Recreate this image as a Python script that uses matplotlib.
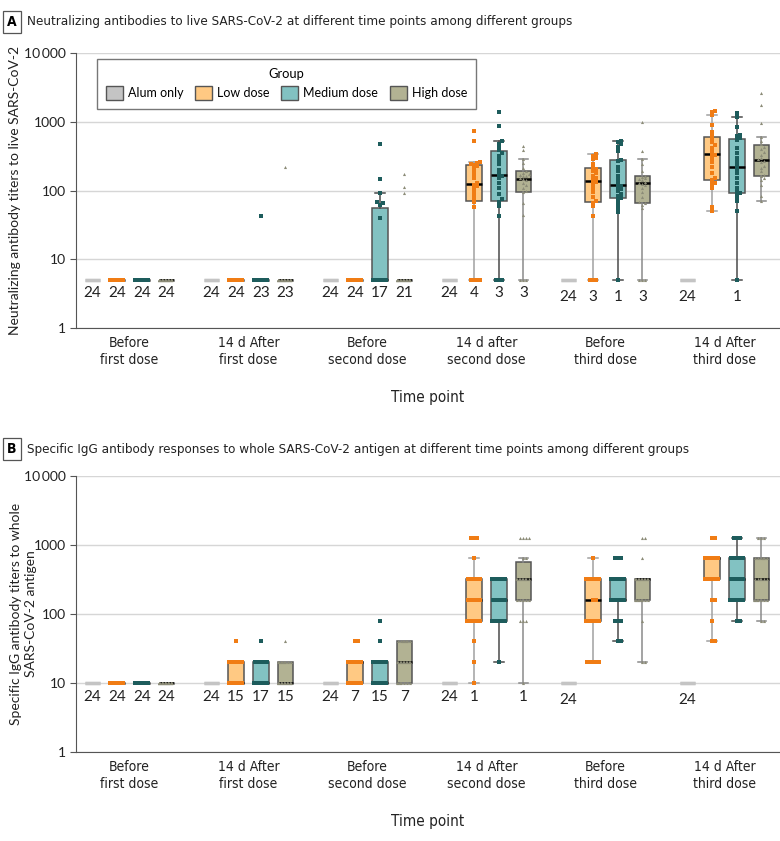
import numpy as np
import matplotlib.pyplot as plt
from matplotlib.patches import Patch
from matplotlib import font_manager
from matplotlib.font_manager import FontProperties

# pick a condensed face for titles / category labels if one is installed
paths = [f.fname for f in font_manager.fontManager.ttflist]


def find_font(keys):
    for k in keys:
        for p in paths:
            if p.endswith(k):
                return p
    return None


cond_reg = find_font(['LiberationSansNarrow-Regular.ttf', 'DejaVuSansCondensed.ttf'])
cond_bold = find_font(['LiberationSansNarrow-Bold.ttf', 'DejaVuSansCondensed-Bold.ttf'])


def cfont(size, bold=False):
    p = cond_bold if bold else cond_reg
    if p:
        return FontProperties(fname=p, size=size)
    return FontProperties(family='Roboto', size=size, weight='bold' if bold else 'normal')


plt.rcParams['font.family'] = ['Lato', 'DejaVu Sans']

time_labels = ['Before\nfirst dose', '14 d After\nfirst dose', 'Before\nsecond dose',
               '14 d after\nsecond dose', 'Before\nthird dose', '14 d After\nthird dose']
time_labels_b = ['Before\nfirst dose', '14 d After\nfirst dose', 'Before\nsecond dose',
                 '14 d After\nsecond dose', 'Before\nthird dose', '14 d After\nthird dose']
groups = ['Alum only', 'Low dose', 'Medium dose', 'High dose']

# Panel A: neutralizing antibody titers (LOD = 5), one list per time point
neut_alum = [[5] * 24, [5] * 24, [5] * 24, [5] * 24, [5] * 24, [5] * 24]
neut_low = [
    [5] * 24,
    [5] * 24,
    [5] * 24,
    [5] * 4 + [58, 69, 76, 85, 95, 105, 115, 122, 130, 150, 170, 190, 210, 228, 238, 245, 252, 258, 525, 727],
    [5] * 3 + [43, 60, 66, 70, 80, 95, 110, 125, 132, 140, 150, 165, 180, 195, 205, 215, 240, 290, 300, 320, 343],
    [50, 58, 110, 125, 130, 140, 150, 180, 220, 260, 300, 325, 345, 380, 420, 460, 500, 560, 620, 700, 900, 1240, 1400, 1450],
]
neut_med = [
    [5] * 24,
    [5] * 23 + [42],
    [5] * 17 + [40, 62, 65, 68, 91, 146, 475],
    [5] * 3 + [42, 60, 68, 74, 90, 110, 130, 150, 160, 172, 200, 240, 280, 320, 350, 390, 430, 480, 520, 880, 1400],
    [5] + [48, 56, 63, 73, 78, 82, 90, 100, 105, 112, 118, 124, 140, 160, 190, 220, 270, 280, 380, 430, 470, 500, 530],
    [5, 50, 70, 80, 88, 92, 98, 110, 130, 150, 180, 205, 230, 260, 300, 350, 420, 540, 580, 620, 650, 840, 1190, 1320],
]
neut_high = [
    [5] * 24,
    [5] * 23 + [217],
    [5] * 21 + [92, 114, 174],
    [5] * 3 + [44, 65, 95, 100, 110, 120, 130, 140, 145, 152, 160, 165, 170, 175, 180, 195, 210, 250, 283, 385, 444],
    [5] * 3 + [55, 62, 66, 68, 80, 95, 110, 120, 125, 129, 135, 140, 145, 150, 155, 165, 190, 240, 285, 380, 980],
    [70, 82, 120, 140, 150, 160, 168, 190, 210, 230, 260, 270, 285, 300, 330, 360, 400, 430, 470, 520, 600, 950, 1750, 2590],
]

# Panel B: specific IgG titers (LOD = 10)
igg_alum = [[10] * 24, [10] * 24, [10] * 24, [10] * 24, [10] * 24, [10] * 24]
igg_low = [
    [10] * 24,
    [10] * 15 + [20] * 8 + [40],
    [10] * 7 + [20] * 15 + [40] * 2,
    [10, 20, 40] + [80] * 6 + [160] * 6 + [320] * 5 + [640] + [1280] * 3,
    [20] * 5 + [80] * 6 + [160] * 2 + [320] * 10 + [640],
    [40] * 2 + [80] + [160] * 2 + [320] * 6 + [640] * 11 + [1280] * 2,
]
igg_med = [
    [10] * 24,
    [10] * 17 + [20] * 6 + [40],
    [10] * 15 + [20] * 7 + [40, 80],
    [20] + [80] * 7 + [160] * 8 + [320] * 8,
    [40] * 2 + [80] * 3 + [160] * 8 + [320] * 8 + [640] * 3,
    [80] * 2 + [160] * 7 + [320] * 6 + [640] * 6 + [1280] * 3,
]
igg_high = [
    [10] * 24,
    [10] * 15 + [20] * 8 + [40],
    [10] * 7 + [20] * 10 + [40] * 7,
    [10] + [80] * 3 + [160] * 5 + [320] * 9 + [640] * 2 + [1280] * 4,
    [20] * 2 + [80] + [160] * 8 + [320] * 10 + [640] + [1280] * 2,
    [80] * 2 + [160] * 7 + [320] * 6 + [640] * 6 + [1280] * 3,
]

fills = ['#c4c4c4', '#ffc983', '#82c2c2', '#b2b293']
pcols = ['#bdbdbd', '#f07c14', '#1d5c5c', '#8c8c78']
pmark = ['s', 's', 's', '^']
wcols = ['#bdbdbd', '#a0a0a0', '#4a4a4a', '#8a8a8a']
offsets = [-0.31, -0.105, 0.105, 0.31]
PX_UNIT = 119.0   # pixels per x unit
PX_DEC = 69.0     # pixels per decade


def box_stats(vals):
    v = np.asarray(vals, float)
    q1, med, q3 = np.percentile(v, [25, 50, 75], method='weibull')
    iqr = q3 - q1
    lo = v[v >= q1 - 1.5 * iqr].min()
    hi = v[v <= q3 + 1.5 * iqr].max()
    return dict(med=med, q1=q1, q3=q3, whislo=lo, whishi=hi, fliers=[])


def swarm(vals, d=3.0, half=7.0):
    y = np.log10(np.asarray(vals, float)) * PX_DEC
    offs = np.zeros(len(y))
    px, py = [], []
    slots = np.arange(-half, half + 0.01, d)
    extra = 0
    for i in np.argsort(y, kind='stable'):
        spot = None
        k = 0
        while k * d <= half:
            for c in ([0.0] if k == 0 else [k * d, -k * d]):
                if all((c - a) ** 2 + (y[i] - b) ** 2 >= 0.9 * d * d for a, b in zip(px, py)):
                    spot = c
                    break
            if spot is not None:
                break
            k += 1
        if spot is None:
            spot = slots[extra % len(slots)]
            extra += 1
        offs[i] = spot
        px.append(spot)
        py.append(y[i])
    return offs / PX_UNIT


def panel(ax, data, lod, labels, count_y):
    for g, series in enumerate(data):
        for t, vals in enumerate(series):
            pos = t + offsets[g]
            st = box_stats(vals)
            ec = fills[0] if g == 0 else '#555555'
            ax.bxp([st], positions=[pos], widths=0.13, patch_artist=True, showfliers=False,
                   boxprops=dict(facecolor=fills[g], edgecolor=ec, linewidth=2.4 if g == 0 else 1.1),
                   whiskerprops=dict(color=wcols[g], linewidth=1.1),
                   capprops=dict(color=wcols[g], linewidth=1.1),
                   medianprops=dict(color=ec if g == 0 else 'black', linewidth=2.4 if g == 0 else 1.8),
                   capwidths=0.08, zorder=2)
            if g > 0:
                ax.scatter(pos + swarm(vals), vals, s=5, marker=pmark[g], color=pcols[g],
                           linewidths=0, zorder=3)
            n = int(np.sum(np.asarray(vals) == lod))
            if n > 0:
                ax.text(pos, count_y[t], str(n), ha='center', va='center', fontsize=11, color='#222222')
    ax.set_yscale('log')
    ax.set_ylim(1, 10000)
    ax.set_xlim(-0.45, 5.466)
    ax.set_yticks([1, 10, 100, 1000, 10000])
    ax.set_yticklabels(['1', '10', '100', '1000', '10\u2009000'], fontsize=10)
    ax.minorticks_off()
    ax.set_xticks(range(6))
    ax.set_xticklabels(labels, color='#222222')
    for lab in ax.get_xticklabels():
        lab.set_fontproperties(cfont(10))
    ax.tick_params(axis='x', length=0, pad=6)
    ax.tick_params(axis='y', length=4, color='#555555', labelcolor='#222222')
    ax.yaxis.grid(True, color='#d6d6d6', linewidth=1)
    ax.set_axisbelow(True)
    for s in ['top', 'right']:
        ax.spines[s].set_visible(False)
    for s in ['left', 'bottom']:
        ax.spines[s].set_color('#555555')
    ax.set_xlabel('Time point', fontproperties=cfont(11), labelpad=17, color='#222222')


fig = plt.figure(figsize=(7.8, 8.41), dpi=100)
axA = fig.add_axes([76 / 780, 1 - 328 / 841, 704 / 780, 275 / 841])
axB = fig.add_axes([76 / 780, 1 - 752 / 841, 704 / 780, 276 / 841])

panel(axA, [neut_alum, neut_low, neut_med, neut_high], 5, time_labels,
      [3.2, 3.2, 3.2, 3.2, 2.8, 2.8])
panel(axB, [igg_alum, igg_low, igg_med, igg_high], 10, time_labels_b,
      [6.3, 6.3, 6.3, 6.3, 5.7, 5.7])

axA.set_ylabel('Neutralizing antibody titers to live SARS-CoV-2', fontsize=10, color='#222222')
axA.yaxis.set_label_coords(-0.078, 0.5)
axB.set_ylabel('Specific IgG antibody titers to whole\nSARS-CoV-2 antigen', fontsize=10,
               color='#222222', linespacing=1.25)
axB.yaxis.set_label_coords(-0.056, 0.5)

handles = [Patch(facecolor=fills[i], edgecolor='#555555', label=groups[i]) for i in range(4)]
leg = axA.legend(handles=handles, title='Group', ncol=4, loc='upper left',
                 bbox_to_anchor=(0.03, 0.978), borderaxespad=0, fontsize=9, title_fontsize=9.3,
                 frameon=True, fancybox=False, edgecolor='#555555', handlelength=1.35,
                 handleheight=1.35, handletextpad=0.4, columnspacing=0.95, borderpad=0.7)
leg.get_frame().set_linewidth(1)

fig.text(27 / 780, 1 - 22 / 841, 'Neutralizing antibodies to live SARS-CoV-2 at different time points among different groups',
         fontproperties=cfont(9.6), va='center', color='#222222')
fig.text(27 / 780, 1 - 449 / 841, 'Specific IgG antibody responses to whole SARS-CoV-2 antigen at different time points among different groups',
         fontproperties=cfont(9.6), va='center', color='#222222')
for lab, yy in [('A', 22), ('B', 449)]:
    fig.text(12 / 780, 1 - yy / 841, lab, fontproperties=cfont(10, bold=True), ha='center', va='center',
             bbox=dict(boxstyle='square,pad=0.3', facecolor='white', edgecolor='#555555', linewidth=0.9))

fig.savefig('out.png', dpi=100)
